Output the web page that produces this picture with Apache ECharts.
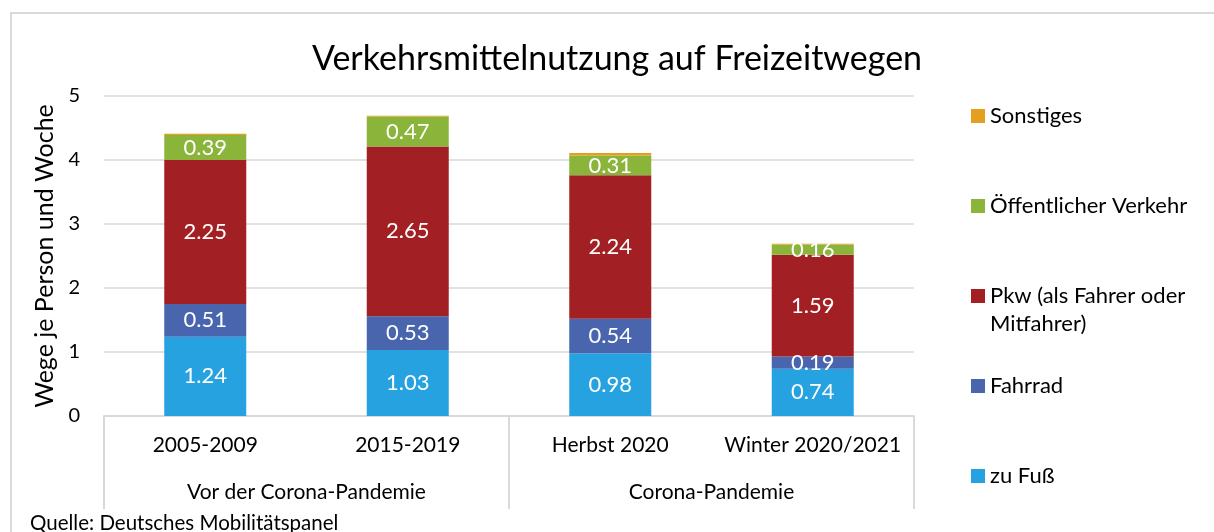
<!DOCTYPE html>
<html>
<head>
<meta charset="utf-8">
<script src="https://cdn.jsdelivr.net/npm/echarts@6/dist/echarts.min.js"></script>
<style>
  html, body { margin: 0; padding: 0; background: #fff; }
  #chart { width: 1214px; height: 532px; }
</style>
</head>
<body>
<div id="chart"></div>
<script>
// Daten (Wege je Person und Woche)
const categories = ['2005-2009', '2015-2019', 'Herbst 2020', 'Winter 2020/2021'];
const groups = ['Vor der Corona-Pandemie', 'Corona-Pandemie'];
const zuFuss = [1.24, 1.03, 0.98, 0.74];
const fahrrad = [0.51, 0.53, 0.54, 0.19];
const pkw = [2.25, 2.65, 2.24, 1.59];
const oev = [0.39, 0.47, 0.31, 0.16];
const sonstiges = [0.02, 0.01, 0.04, 0.01];
const yTicks = [0, 1, 2, 3, 4, 5];

const FONT = 'Lato';
const GRID = '#D9D9D9';
const PKW = 'Pkw (als Fahrer oder Mitfahrer)';

const seriesDefs = [
  { name: 'zu Fuß', data: zuFuss, color: '#27A2E1', label: true },
  { name: 'Fahrrad', data: fahrrad, color: '#4965AE', label: true },
  { name: PKW, data: pkw, color: '#A21F24', label: true },
  { name: 'Öffentlicher Verkehr', data: oev, color: '#8AB43A', label: true },
  { name: 'Sonstiges', data: sonstiges, color: '#E49F1E', label: false }
];

const series = seriesDefs.map(s => ({
  name: s.name,
  type: 'bar',
  stack: 'total',
  barWidth: 82,
  xAxisIndex: 0,
  itemStyle: { color: s.color },
  label: {
    show: s.label,
    position: 'inside',
    color: '#fff',
    fontFamily: FONT,
    fontSize: 22,
    formatter: p => p.value.toFixed(2)
  },
  data: s.data
}));

// Legende: eine pro Eintrag, von oben nach unten (Abstand 90px)
const legendRows = [
  { name: 'Sonstiges', top: 100 },
  { name: 'Öffentlicher Verkehr', top: 190 },
  { name: PKW, top: 280 },
  { name: 'Fahrrad', top: 370 },
  { name: 'zu Fuß', top: 460 }
];
const legends = legendRows.map(r => ({
  data: [r.name],
  left: 966,
  top: r.top,
  itemWidth: 14,
  itemHeight: 14,
  itemGap: 5,
  icon: 'rect',
  selectedMode: false,
  // zweite Zeile des Pkw-Eintrags kommt als eigener Text darunter
  formatter: n => n === PKW ? 'Pkw (als Fahrer oder' : n,
  textStyle: { fontFamily: FONT, fontSize: 22, color: '#000' }
}));

const chart = echarts.init(document.getElementById('chart'));
chart.setOption({
  animation: false,
  title: {
    text: 'Verkehrsmittelnutzung auf Freizeitwegen',
    left: 612,
    textAlign: 'center',
    top: 37,
    textStyle: { fontFamily: FONT, fontSize: 34, fontWeight: 'normal', color: '#000' }
  },
  legend: legends,
  grid: { left: 104, right: 300, top: 96, bottom: 116 },
  xAxis: [
    {
      type: 'category',
      data: categories,
      position: 'bottom',
      axisLine: { lineStyle: { color: GRID, width: 2 } },
      axisTick: { show: false },
      axisLabel: { interval: 0, fontFamily: FONT, fontSize: 21, color: '#000', margin: 19 }
    },
    {
      type: 'category',
      data: groups,
      position: 'bottom',
      axisLine: { show: false },
      axisTick: { show: true, length: 93, lineStyle: { color: GRID, width: 2 } },
      axisLabel: { interval: 0, fontFamily: FONT, fontSize: 21, color: '#000', margin: 66 }
    }
  ],
  yAxis: {
    type: 'value',
    min: yTicks[0],
    max: yTicks[yTicks.length - 1],
    interval: 1,
    name: 'Wege je Person und Woche',
    nameLocation: 'middle',
    nameGap: 46,
    nameTextStyle: { fontFamily: FONT, fontSize: 25, color: '#000' },
    axisLine: { show: false },
    axisTick: { show: false },
    splitLine: { lineStyle: { color: GRID, width: 1.5 } },
    axisLabel: { fontFamily: FONT, fontSize: 20, color: '#000', margin: 24 }
  },
  graphic: [
    {
      type: 'rect',
      shape: { x: 11, y: 13, width: 1210, height: 540 },
      style: { fill: 'none', stroke: GRID, lineWidth: 2 },
      silent: true
    },
    {
      type: 'text',
      left: 990,
      top: 313,
      style: { text: 'Mitfahrer)', fontFamily: FONT, fontSize: 22, fill: '#000' }
    },
    {
      type: 'text',
      left: 30,
      top: 513,
      style: { text: 'Quelle: Deutsches Mobilitätspanel', fontFamily: FONT, fontSize: 20.5, fill: '#000' }
    }
  ],
  series: series
});
</script>
</body>
</html>
